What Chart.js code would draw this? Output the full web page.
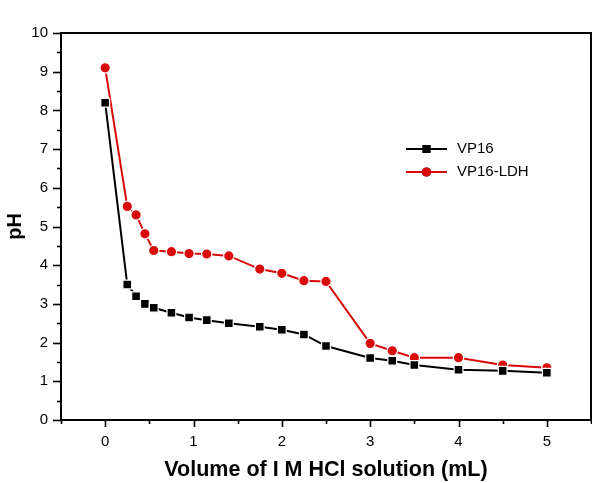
<!DOCTYPE html>
<html>
<head>
<meta charset="utf-8">
<script src="https://cdn.jsdelivr.net/npm/chart.js@4/dist/chart.umd.min.js"></script>
<style>
  html, body { margin: 0; padding: 0; background: #fff; }
  #wrap { width: 592px; height: 483px; }
</style>
</head>
<body>
<div id="wrap"><canvas id="ph"></canvas></div>
<script>
// titration data
const volVP16 = [0, 0.25, 0.35, 0.45, 0.55, 0.75, 0.95, 1.15, 1.4, 1.75, 2.0, 2.25, 2.5, 3.0, 3.25, 3.5, 4.0, 4.5, 5.0];
const phVP16 = [8.2, 3.5, 3.2, 3.0, 2.9, 2.77, 2.65, 2.58, 2.5, 2.41, 2.33, 2.21, 1.91, 1.6, 1.53, 1.42, 1.3, 1.27, 1.22];

const volLDH = [0, 0.25, 0.35, 0.45, 0.55, 0.75, 0.95, 1.15, 1.4, 1.75, 2.0, 2.25, 2.5, 3.0, 3.25, 3.5, 4.0, 4.5, 5.0];
const phLDH = [9.1, 5.52, 5.3, 4.81, 4.38, 4.35, 4.3, 4.29, 4.24, 3.9, 3.79, 3.6, 3.58, 1.98, 1.79, 1.61, 1.61, 1.42, 1.35];

const seriesNames = ['VP16', 'VP16-LDH'];
const xTickLabels = ['0', '1', '2', '3', '4', '5'];
const yTickLabels = ['0', '1', '2', '3', '4', '5', '6', '7', '8', '9', '10'];

const toPoints = (xs, ys) => xs.map((x, i) => ({ x: x, y: ys[i] }));

const FONT = 'Arial, "Liberation Sans", sans-serif';

// origin-style ticks (major + minor) and the frame
const frameTicks = {
  id: 'frameTicks',
  afterDraw(chart) {
    const ctx = chart.ctx;
    const a = chart.chartArea;
    ctx.save();
    ctx.strokeStyle = '#000';
    ctx.lineWidth = 2;
    ctx.strokeRect(a.left, a.top, a.right - a.left, a.bottom - a.top);

    ctx.lineWidth = 1.6;
    const xs = chart.scales.x;
    xs.ticks.forEach(t => {
      const px = Math.round(xs.getPixelForValue(t.value)) + 0.5;
      const len = Number.isInteger(t.value) ? 7 : 4;
      ctx.beginPath();
      ctx.moveTo(px, a.bottom);
      ctx.lineTo(px, a.bottom + len);
      ctx.stroke();
    });
    const ys = chart.scales.y;
    ys.ticks.forEach(t => {
      const py = Math.round(ys.getPixelForValue(t.value)) + 0.5;
      const len = Number.isInteger(t.value) ? 8 : 4;
      ctx.beginPath();
      ctx.moveTo(a.left, py);
      ctx.lineTo(a.left - len, py);
      ctx.stroke();
    });
    ctx.restore();
  }
};

// legend inside plot, like the original
const insideLegend = {
  id: 'insideLegend',
  afterDatasetsDraw(chart) {
    const ctx = chart.ctx;
    const x0 = 406, x1 = 447, tx = 457;
    let y = 149;
    ctx.save();
    chart.data.datasets.forEach(ds => {
      ctx.strokeStyle = ds.borderColor;
      ctx.lineWidth = 2;
      ctx.beginPath();
      ctx.moveTo(x0, y);
      ctx.lineTo(x1, y);
      ctx.stroke();
      Chart.helpers.drawPoint(ctx, {
        pointStyle: ds.pointStyle,
        radius: ds.pointRadius - 0.6,
        borderWidth: 0
      }, (x0 + x1) / 2, y);
      ctx.fillStyle = ds.pointBackgroundColor;
      ctx.fill();
      ctx.fillStyle = '#000';
      ctx.font = '15px ' + FONT;
      ctx.textBaseline = 'middle';
      ctx.textAlign = 'left';
      ctx.fillText(ds.label, tx, y);
      y += 23;
    });
    ctx.restore();
  }
};

new Chart(document.getElementById('ph'), {
  type: 'line',
  data: {
    datasets: [{
      label: seriesNames[0],
      data: toPoints(volVP16, phVP16),
      borderColor: '#000000',
      backgroundColor: '#000000',
      pointBackgroundColor: '#000000',
      pointBorderColor: '#ffffff',
      pointStyle: 'rect',
      pointRadius: 6.2,
      pointBorderWidth: 1.2,
      borderWidth: 2,
      tension: 0
    }, {
      label: seriesNames[1],
      data: toPoints(volLDH, phLDH),
      borderColor: '#d80a0a',
      backgroundColor: '#d80a0a',
      pointBackgroundColor: '#d80a0a',
      pointBorderColor: '#ffffff',
      pointStyle: 'circle',
      pointRadius: 5.2,
      pointBorderWidth: 1.2,
      borderWidth: 2,
      tension: 0
    }]
  },
  options: {
    responsive: true,
    maintainAspectRatio: false,
    animation: false,
    layout: { autoPadding: false, padding: { top: 33, right: 1, left: 0, bottom: 0 } },
    plugins: {
      legend: { display: false },
      tooltip: { enabled: false }
    },
    scales: {
      x: {
        type: 'linear',
        min: -0.5,
        max: 5.5,
        afterFit: s => { s.height = 63; s.paddingRight = 0; s.paddingLeft = 0; },
        grid: { display: true, drawOnChartArea: false, drawTicks: false },
        border: { display: false },
        ticks: {
          stepSize: 0.5,
          autoSkip: false,
          maxRotation: 0,
          padding: 13,
          color: '#000',
          font: { family: FONT, size: 15 },
          callback: v => Number.isInteger(v) && v >= 0 ? xTickLabels[v] : ''
        },
        title: {
          display: true,
          text: 'Volume of I M HCl solution (mL)',
          color: '#000',
          font: { family: FONT, size: 21.5, weight: 'bold' },
          padding: { top: 4, bottom: 0 }
        }
      },
      y: {
        type: 'linear',
        min: 0,
        max: 10,
        afterFit: s => { s.width = 61; },
        grid: { display: true, drawOnChartArea: false, drawTicks: false },
        border: { display: false },
        ticks: {
          stepSize: 0.5,
          autoSkip: false,
          padding: 13,
          color: '#000',
          font: { family: FONT, size: 15 },
          callback: v => Number.isInteger(v) ? yTickLabels[v] : ''
        },
        title: {
          display: true,
          text: 'pH',
          color: '#000',
          font: { family: FONT, size: 20, weight: 'bold' },
          padding: { top: 3, bottom: 0 }
        }
      }
    }
  },
  plugins: [frameTicks, insideLegend]
});
</script>
</body>
</html>
